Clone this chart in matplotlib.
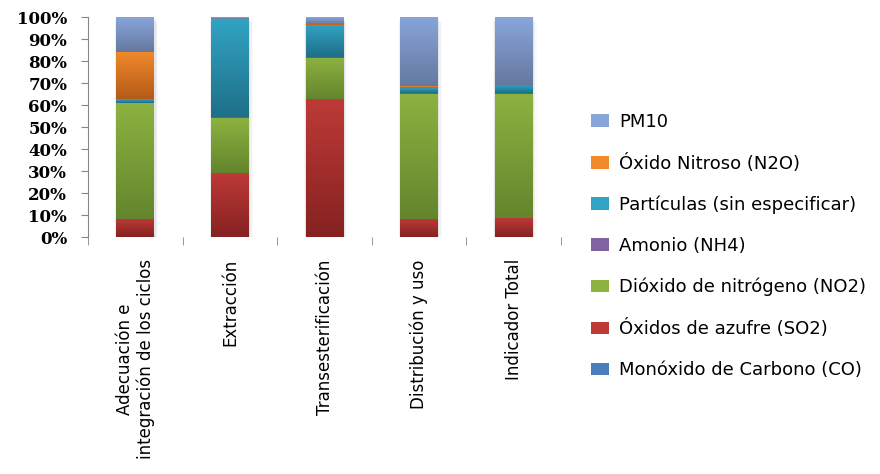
import numpy as np
import matplotlib
matplotlib.use("Agg")
import matplotlib.pyplot as plt
from matplotlib.colors import LinearSegmentedColormap
from matplotlib.patches import Rectangle

# etapas del ciclo de vida
categorias = ["Adecuación e\nintegración de los ciclos", "Extracción",
              "Transesterificación", "Distribución y uso", "Indicador Total"]

# contribución (%) de cada contaminante por etapa
co = [0.0, 0.0, 0.0, 0.0, 0.0]
so2 = [8.2, 29.1, 62.7, 8.2, 8.8]
no2 = [52.7, 25.1, 18.8, 57.0, 56.2]
nh4 = [0.0, 0.3, 0.3, 0.4, 0.4]
particulas = [1.8, 44.6, 14.6, 2.3, 3.2]
n2o = [21.5, 0.0, 0.6, 0.7, 0.5]
pm10 = [15.8, 0.9, 3.0, 31.4, 30.9]

series = [
    ("Monóxido de Carbono (CO)", co, "#4A7EBB", "#2F5788"),
    ("Óxidos de azufre (SO2)", so2, "#BE3A37", "#852221"),
    ("Dióxido de nitrógeno (NO2)", no2, "#8DB240", "#64852D"),
    ("Amonio (NH4)", nh4, "#8064A2", "#5C4878"),
    ("Partículas (sin especificar)", particulas, "#31A4C4", "#1F6F88"),
    ("Óxido Nitroso (N2O)", n2o, "#F18A2B", "#B45B19"),
    ("PM10", pm10, "#88A5DA", "#65799F"),
]

fig = plt.figure(figsize=(8.8, 4.74), dpi=100)
ax = fig.add_axes([0.1, 0.5, 0.5375, 0.4641])

x = np.arange(len(categorias))
ancho = 0.40

# sombra suave detrás de cada columna
for xi in x:
    for k, a in enumerate([0.10, 0.07, 0.04]):
        d = 0.012 * (k + 1)
        ax.add_patch(Rectangle((xi - ancho / 2 - d * 0.4, 0), ancho + d * 1.6, 100 - 0.8 * (k + 1),
                               facecolor="#808080", alpha=a, edgecolor="none", zorder=1))

base = np.zeros(len(categorias))
handles = []
for nombre, valores, claro, oscuro in series:
    valores = np.array(valores)
    barras = ax.bar(x, valores, ancho, bottom=base, color=claro, edgecolor="none",
                    label=nombre, zorder=2)
    handles.append(barras)
    cmap = LinearSegmentedColormap.from_list(nombre, [oscuro, claro])
    grad = np.linspace(0, 1, 128).reshape(-1, 1)
    for rect in barras:
        h = rect.get_height()
        if h <= 0:
            continue
        x0 = rect.get_x()
        y0 = rect.get_y()
        ax.imshow(grad, cmap=cmap, aspect="auto", origin="lower",
                  extent=[x0, x0 + rect.get_width(), y0, y0 + h], zorder=3)
    base += valores

ax.set_xlim(-0.5, len(categorias) - 0.5)
ax.set_ylim(0, 100)

ax.set_yticks(np.arange(0, 101, 10))
ax.set_yticklabels([f"{v}%" for v in range(0, 101, 10)],
                   fontfamily="DejaVu Serif", fontweight="bold", fontsize=12)
ax.tick_params(axis="y", direction="out", length=5, color="#868686", pad=10)

ax.set_xticks(x)
ax.set_xticklabels(categorias, rotation=90, fontsize=12, va="top", ha="center",
                   multialignment="center")
ax.set_xticks(np.arange(-0.5, len(categorias)), minor=True)
ax.tick_params(axis="x", which="major", length=0, pad=16)
ax.tick_params(axis="x", which="minor", length=6, color="#868686", direction="out")

for lado in ["top", "right", "bottom"]:
    ax.spines[lado].set_visible(False)
ax.spines["left"].set_color("#868686")

leg = fig.legend(handles[::-1], [s[0] for s in series][::-1],
                 loc="center left", bbox_to_anchor=(0.653, 0.481),
                 frameon=False, fontsize=13, labelspacing=1.27,
                 handlelength=1.0, handleheight=0.7, handletextpad=0.55)

fig.savefig("out.png", dpi=100)
